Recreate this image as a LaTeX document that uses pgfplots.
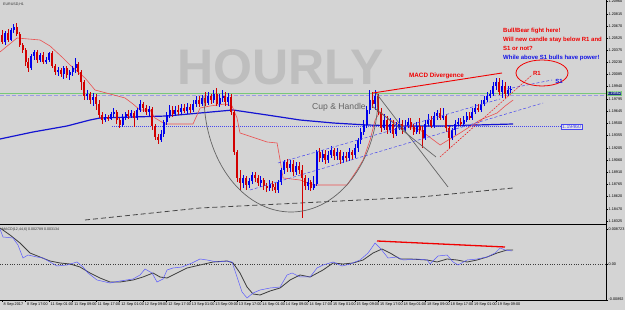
\documentclass[border=0pt]{standalone}
\usepackage{pgfplots}
\pgfplotsset{compat=1.18}
\usepackage{pgfplotstable}
\usepackage{fontspec}
\setmainfont{Liberation Sans}
\definecolor{bg}{RGB}{212,212,212}
\definecolor{hourly}{RGB}{190,190,190}
\definecolor{bull}{RGB}{0,0,235}
\definecolor{bear}{RGB}{210,0,0}
\definecolor{mablue}{RGB}{20,20,210}
\definecolor{trail}{RGB}{235,80,80}
\definecolor{gdash}{RGB}{70,70,70}
\definecolor{cupgray}{RGB}{100,100,100}
\definecolor{chan}{RGB}{70,70,240}
\definecolor{grline}{RGB}{120,200,120}
\definecolor{lav}{RGB}{155,155,230}
\definecolor{macdblue}{RGB}{90,90,255}
\definecolor{macdgray}{RGB}{60,60,60}
\definecolor{annred}{RGB}{240,0,0}
\definecolor{annblue}{RGB}{20,20,230}
\definecolor{pricebox}{RGB}{30,50,140}

\pgfplotstableread{
i o c h l
0 1.20560 1.20476 1.20620 1.20452
1 1.20476 1.20584 1.20608 1.20440
2 1.20584 1.20500 1.20632 1.20476
3 1.20500 1.20620 1.20644 1.20488
4 1.20620 1.20656 1.20692 1.20584
5 1.20656 1.20572 1.20704 1.20548
6 1.20572 1.20440 1.20596 1.20416
7 1.20440 1.20380 1.20464 1.20344
8 1.20380 1.20236 1.20404 1.20188
9 1.20236 1.20164 1.20284 1.20116
10 1.20164 1.20308 1.20332 1.20140
11 1.20308 1.20356 1.20380 1.20260
12 1.20356 1.20260 1.20380 1.20224
13 1.20260 1.20320 1.20344 1.20236
14 1.20320 1.20236 1.20356 1.20212
15 1.20236 1.20260 1.20296 1.20212
16 1.20260 1.20344 1.20356 1.20236
17 1.20344 1.20188 1.20368 1.20164
18 1.20188 1.20116 1.20212 1.20080
19 1.20116 1.20140 1.20176 1.20068
20 1.20140 1.20092 1.20164 1.20056
21 1.20092 1.20164 1.20188 1.20032
22 1.20164 1.20080 1.20188 1.20044
23 1.20080 1.20116 1.20140 1.20020
24 1.20116 1.20164 1.20188 1.20068
25 1.20164 1.20212 1.20284 1.20104
26 1.20212 1.20116 1.20236 1.20080
27 1.20116 1.19996 1.20140 1.19900
28 1.19996 1.19828 1.20020 1.19780
29 1.19828 1.19852 1.19900 1.19780
30 1.19852 1.19780 1.19876 1.19732
31 1.19780 1.19816 1.19864 1.19708
32 1.19816 1.19732 1.19852 1.19660
33 1.19732 1.19600 1.19780 1.19564
34 1.19600 1.19540 1.19636 1.19492
35 1.19540 1.19576 1.19612 1.19516
36 1.19576 1.19552 1.19600 1.19528
37 1.19552 1.19612 1.19636 1.19540
38 1.19612 1.19636 1.19684 1.19576
39 1.19636 1.19540 1.19660 1.19492
40 1.19540 1.19480 1.19564 1.19444
41 1.19480 1.19576 1.19612 1.19456
42 1.19576 1.19612 1.19636 1.19540
43 1.19612 1.19588 1.19660 1.19552
44 1.19588 1.19624 1.19660 1.19564
45 1.19624 1.19564 1.19648 1.19456
46 1.19564 1.19660 1.19684 1.19540
47 1.19660 1.19732 1.19780 1.19636
48 1.19732 1.19684 1.19756 1.19636
49 1.19684 1.19636 1.19720 1.19600
50 1.19636 1.19672 1.19708 1.19588
51 1.19672 1.19468 1.19696 1.19420
52 1.19468 1.19336 1.19492 1.19300
53 1.19336 1.19300 1.19372 1.19252
54 1.19300 1.19372 1.19420 1.19276
55 1.19372 1.19516 1.19540 1.19336
56 1.19516 1.19600 1.19636 1.19480
57 1.19600 1.19660 1.19720 1.19564
58 1.19660 1.19612 1.19708 1.19576
59 1.19612 1.19660 1.19708 1.19588
60 1.19660 1.19636 1.19720 1.19600
61 1.19636 1.19684 1.19732 1.19612
62 1.19684 1.19648 1.19732 1.19624
63 1.19648 1.19696 1.19744 1.19612
64 1.19696 1.19660 1.19732 1.19624
65 1.19660 1.19732 1.19780 1.19636
66 1.19732 1.19780 1.19828 1.19696
67 1.19780 1.19732 1.19828 1.19696
68 1.19732 1.19804 1.19840 1.19708
69 1.19804 1.19744 1.19876 1.19708
70 1.19744 1.19828 1.19876 1.19720
71 1.19828 1.19780 1.19852 1.19732
72 1.19780 1.19852 1.19900 1.19744
73 1.19852 1.19732 1.19924 1.19708
74 1.19732 1.19804 1.19852 1.19696
75 1.19804 1.19828 1.19900 1.19756
76 1.19828 1.19756 1.19876 1.19708
77 1.19756 1.19816 1.19864 1.19708
78 1.19816 1.19636 1.19852 1.19600
79 1.19636 1.19156 1.19660 1.19120
80 1.19156 1.18844 1.19180 1.18796
81 1.18844 1.18784 1.18940 1.18700
82 1.18784 1.18844 1.18880 1.18724
83 1.18844 1.18760 1.18868 1.18700
84 1.18760 1.18808 1.18844 1.18724
85 1.18808 1.18880 1.18916 1.18772
86 1.18880 1.18844 1.18916 1.18796
87 1.18844 1.18784 1.18880 1.18748
88 1.18784 1.18820 1.18868 1.18736
89 1.18820 1.18748 1.18844 1.18700
90 1.18748 1.18724 1.18784 1.18676
91 1.18724 1.18772 1.18820 1.18688
92 1.18772 1.18736 1.18808 1.18688
93 1.18736 1.18700 1.18784 1.18664
94 1.18700 1.18796 1.18820 1.18664
95 1.18796 1.18940 1.18964 1.18760
96 1.18940 1.19036 1.19060 1.18892
97 1.19036 1.18964 1.19072 1.18916
98 1.18964 1.19012 1.19060 1.18916
99 1.19012 1.18916 1.19060 1.18868
100 1.18916 1.18988 1.19036 1.18880
101 1.18988 1.18940 1.19036 1.18892
102 1.18940 1.18844 1.19000 1.18364
103 1.18844 1.18748 1.18880 1.18700
104 1.18748 1.18796 1.18844 1.18700
105 1.18796 1.18724 1.18820 1.18688
106 1.18724 1.18772 1.18868 1.18700
107 1.18772 1.19156 1.19180 1.18748
108 1.19156 1.19084 1.19204 1.19036
109 1.19084 1.19132 1.19180 1.19036
110 1.19132 1.19060 1.19180 1.19012
111 1.19060 1.19120 1.19168 1.19024
112 1.19120 1.19180 1.19228 1.19084
113 1.19180 1.19108 1.19204 1.19060
114 1.19108 1.19156 1.19204 1.19060
115 1.19156 1.19060 1.19180 1.19012
116 1.19060 1.19108 1.19156 1.19024
117 1.19108 1.19084 1.19156 1.19036
118 1.19084 1.19156 1.19204 1.19048
119 1.19156 1.19120 1.19180 1.19060
120 1.19120 1.19204 1.19252 1.19084
121 1.19204 1.19300 1.19324 1.19156
122 1.19300 1.19396 1.19444 1.19252
123 1.19396 1.19480 1.19540 1.19360
124 1.19480 1.19660 1.19708 1.19444
125 1.19660 1.19780 1.19900 1.19612
126 1.19780 1.19732 1.19876 1.19684
127 1.19732 1.19828 1.19900 1.19660
128 1.19828 1.19636 1.19852 1.19600
129 1.19636 1.19444 1.19684 1.19396
130 1.19444 1.19540 1.19612 1.19420
131 1.19540 1.19420 1.19588 1.19372
132 1.19420 1.19492 1.19564 1.19384
133 1.19492 1.19372 1.19540 1.19324
134 1.19372 1.19444 1.19516 1.19348
135 1.19444 1.19492 1.19564 1.19420
136 1.19492 1.19420 1.19540 1.19372
137 1.19420 1.19468 1.19540 1.19396
138 1.19468 1.19516 1.19564 1.19444
139 1.19516 1.19456 1.19564 1.19420
140 1.19456 1.19396 1.19492 1.19360
141 1.19396 1.19468 1.19516 1.19372
142 1.19468 1.19420 1.19564 1.19372
143 1.19420 1.19324 1.19468 1.19204
144 1.19324 1.19492 1.19540 1.19300
145 1.19492 1.19540 1.19612 1.19468
146 1.19540 1.19468 1.19588 1.19444
147 1.19468 1.19588 1.19636 1.19444
148 1.19588 1.19624 1.19660 1.19540
149 1.19624 1.19564 1.19684 1.19540
150 1.19564 1.19588 1.19684 1.19540
151 1.19588 1.19444 1.19612 1.19396
152 1.19444 1.19324 1.19468 1.19204
153 1.19324 1.19420 1.19444 1.19300
154 1.19420 1.19492 1.19540 1.19360
155 1.19492 1.19516 1.19564 1.19468
156 1.19516 1.19492 1.19564 1.19468
157 1.19492 1.19540 1.19588 1.19468
158 1.19540 1.19588 1.19636 1.19516
159 1.19588 1.19564 1.19636 1.19540
160 1.19564 1.19636 1.19684 1.19540
161 1.19636 1.19684 1.19732 1.19612
162 1.19684 1.19660 1.19732 1.19636
163 1.19660 1.19732 1.19780 1.19636
164 1.19732 1.19780 1.19828 1.19708
165 1.19780 1.19828 1.19876 1.19756
166 1.19828 1.19852 1.19900 1.19804
167 1.19852 1.19948 1.19996 1.19828
168 1.19948 1.19996 1.20044 1.19900
169 1.19996 1.19876 1.20044 1.19840
170 1.19876 1.19948 1.20020 1.19804
171 1.19948 1.19852 1.19996 1.19804
172 1.19852 1.19900 1.19948 1.19828
173 1.19900 1.19912 1.19948 1.19864
}\candles

\pgfplotstableread{
i p
-0.68 1.19312
10.54 1.19396
22.11 1.19468
29.93 1.19540
33.33 1.19564
44.56 1.19576
56.12 1.19588
67.35 1.19624
78.57 1.19660
90.14 1.19600
101.36 1.19540
112.59 1.19504
124.15 1.19480
135.37 1.19468
148.98 1.19468
173.81 1.19492
}\maline

\pgfplotstableread{
i p
28.23 1.18340
67.35 1.18484
101.36 1.18544
142.18 1.18616
173.81 1.18724
}\longma

\pgfplotstableread{
i p
-0.68 1.20356
5.10 1.20524
12.93 1.20500
16.33 1.20428
20.75 1.20284
23.13 1.20200
28.23 1.20044
31.63 1.19900
36.73 1.19852
41.84 1.19804
44.56 1.19732
46.94 1.19660
50.34 1.19660
52.04 1.19564
55.44 1.19492
64.97 1.19492
66.33 1.19600
67.35 1.19684
70.75 1.19708
75.85 1.19732
78.23 1.19708
79.93 1.19564
80.95 1.19384
90.14 1.19276
93.54 1.19264
94.56 1.19060
95.58 1.18844
101.36 1.18820
105.78 1.18760
117.35 1.18760
120.75 1.18940
122.79 1.19060
125.17 1.19300
126.87 1.19540
128.57 1.19636
131.97 1.19540
135.37 1.19480
142.18 1.19420
148.98 1.19240
155.78 1.19384
162.59 1.19540
168.37 1.19624
171.09 1.19708
173.81 1.19780
}\trailline

\pgfplotstableread{
i v
-0.68 0.00875
0.34 0.00675
3.74 0.0065
5.44 0.00475
7.14 0.0015
8.84 0.00225
11.9 0.00175
13.95 0.0015
16.33 0.0005
18.71 -0.0005
22.11 -0.00025
25.51 0.0005
27.55 -0.00075
29.25 -0.00225
32.31 -0.004
36.73 -0.00475
40.14 -0.00425
44.56 -0.00375
46.94 -0.00275
48.64 -0.00125
51.02 -0.00225
52.72 -0.0045
54.76 -0.00375
56.12 -0.0015
58.16 -0.001
61.22 -0.00075
64.63 0.00025
67.35 0.00125
69.73 0.001
73.13 0.0005
76.53 0.00075
78.23 0.0005
79.93 -0.00325
81.63 -0.007
83.33 -0.0085
85.37 -0.00725
87.76 -0.0065
91.16 -0.006
94.56 -0.00575
96.94 -0.00275
98.64 -0.00225
101.36 -0.00325
104.76 -0.00325
107.14 -0.001
109.18 -0.00025
112.59 0.0005
115.65 -0.0005
118.37 0
121.77 0.001
124.49 0.00275
126.87 0.00525
128.57 0.004
131.29 0.0015
134.35 0.00175
136.39 0.001
141.16 0.00125
144.56 0.001
145.58 0
148.3 0.002
151.36 0.00225
153.4 0.0005
155.1 -0.00025
158.16 0.001
161.56 0.00125
164.97 0.00175
167.69 0.00275
169.39 0.004
171.09 0.0035
173.47 0.00325
}\macdmain

\pgfplotstableread{
i v
-0.68 0.009
2.72 0.00725
6.12 0.00525
9.52 0.00275
12.93 0.00175
16.33 0.00075
19.73 0.00025
23.13 0
26.53 -0.00075
29.93 -0.00225
33.33 -0.0035
36.73 -0.0045
40.14 -0.0045
44.56 -0.004
47.96 -0.00325
51.36 -0.00225
53.74 -0.00325
56.12 -0.0035
59.52 -0.00225
62.93 -0.001
67.35 -0.00025
71.77 0.0005
76.53 0.00075
78.57 0.00025
80.95 -0.00225
83.33 -0.00575
85.37 -0.0075
87.76 -0.00775
91.16 -0.00675
94.56 -0.006
97.96 -0.004
101.36 -0.00275
104.76 -0.00325
109.18 -0.0015
112.59 0.00025
115.99 0
119.39 0.00025
122.79 0.001
126.19 0.00275
129.25 0.00375
131.97 0.00275
135.37 0.00125
138.78 0.00125
144.56 0.001
147.96 0.0005
151.36 0.00125
154.76 0.001
158.16 0.0005
161.56 0.001
164.97 0.00175
168.37 0.00275
171.77 0.0035
173.81 0.0035
}\macdsig

\newcommand\tinyf{\fontsize{3.8}{4.2}\selectfont}

\begin{document}
\begin{tikzpicture}
\fill[bg] (0,0) rectangle (625pt,310pt);
% background annotations (pixel coordinates: x right, y down)
\begin{scope}[x=1pt,y=-1pt,shift={(0pt,310pt)}]
  \node[anchor=base west, inner sep=0, text=hourly, font=\fontsize{50}{50}\selectfont\bfseries] at (177,85) {HOURLY};
  \draw[grline, line width=0.9pt] (0,93.2) -- (606,93.2);
  \draw[lav, line width=1.4pt, dash pattern=on 4pt off 2pt] (0,95.3) -- (606,95.3);
  \draw[chan, line width=0.5pt, dash pattern=on 1pt off 1pt] (112,126.7) -- (562,126.7);
  \draw[macdgray, line width=0.4pt, dotted] (0,264) -- (606,264);
\end{scope}

% main price panel
\begin{axis}[
  at={(0pt,86pt)}, anchor=south west, scale only axis,
  width=606pt, height=224pt,
  xmin=-0.68, xmax=205.4, ymin=1.18292, ymax=1.2098,
  axis line style={draw=none}, xtick=\empty,
  ytick pos=right, tick align=outside, major tick length=2pt,
  tick style={black, line width=0.35pt},
  scaled y ticks=false,
  ytick={1.20960,1.20815,1.20670,1.20525,1.20375,1.20230,1.20085,1.19940,1.19795,1.19645,1.19500,1.19355,1.19205,1.19060,1.18910,1.18765,1.18620,1.18470,1.18325},
  yticklabels={1.20960,1.20815,1.20670,1.20525,1.20375,1.20230,1.20085,1.19940,1.19795,1.19645,1.19500,1.19355,1.19205,1.19060,1.18910,1.18765,1.18620,1.18470,1.18325},
  yticklabel style={font=\tinyf, inner sep=0.4pt, xshift=0pt, text=black},
]
\addplot[gdash, line width=0.8pt, dash pattern=on 5pt off 3pt] table[x=i,y=p] {\longma};
\addplot[mablue, line width=1.2pt] table[x=i,y=p] {\maline};
\addplot[trail, line width=0.6pt] table[x=i,y=p] {\trailline};
% wicks
\addplot[draw=none, mark=none, error bars/.cd, y dir=plus, y explicit, error mark=none,
  error bar style={draw=bull, line width=0.55pt}]
  table[x=i, y expr={\thisrow{c}>\thisrow{o} ? \thisrow{l} : nan}, y error plus expr={\thisrow{h}-\thisrow{l}}] {\candles};
\addplot[draw=none, mark=none, error bars/.cd, y dir=plus, y explicit, error mark=none,
  error bar style={draw=bear, line width=0.55pt}]
  table[x=i, y expr={\thisrow{c}<\thisrow{o} ? \thisrow{l} : nan}, y error plus expr={\thisrow{h}-\thisrow{l}}] {\candles};
% bodies
\addplot[draw=none, mark=none, error bars/.cd, y dir=plus, y explicit, error mark=none,
  error bar style={draw=bull, line width=2pt}]
  table[x=i, y expr={\thisrow{c}>\thisrow{o} ? \thisrow{o} : nan}, y error plus expr={\thisrow{c}-\thisrow{o}}] {\candles};
\addplot[draw=none, mark=none, error bars/.cd, y dir=plus, y explicit, error mark=none,
  error bar style={draw=bear, line width=2pt}]
  table[x=i, y expr={\thisrow{c}<\thisrow{o} ? \thisrow{c} : nan}, y error plus expr={\thisrow{o}-\thisrow{c}}] {\candles};
\end{axis}

% MACD panel
\begin{axis}[
  at={(0pt,10pt)}, anchor=south west, scale only axis,
  width=606pt, height=74pt,
  xmin=-0.68, xmax=205.4, ymin=-0.009, ymax=0.0095,
  axis line style={draw=none},
  ytick pos=right, xtick pos=bottom, tick align=outside, major tick length=2pt,
  tick style={black, line width=0.35pt},
  scaled y ticks=false, scaled x ticks=false,
  ytick={-0.00892,0,0.008723},
  yticklabels={-0.00892,0.00,0.008723},
  yticklabel style={font=\tinyf, inner sep=0.4pt, xshift=0pt},
  xtick={0,8,...,168},
  xticklabels={8 Sep 2017,8 Sep 17:00,11 Sep 01:00,11 Sep 09:00,11 Sep 17:00,12 Sep 01:00,12 Sep 09:00,12 Sep 17:00,13 Sep 01:00,13 Sep 09:00,13 Sep 17:00,14 Sep 01:00,14 Sep 09:00,14 Sep 17:00,15 Sep 01:00,15 Sep 09:00,15 Sep 17:00,18 Sep 01:00,18 Sep 09:00,18 Sep 17:00,19 Sep 01:00,19 Sep 09:00},
  xticklabel style={font=\tinyf, anchor=north west, inner sep=0.5pt, xshift=1pt},
]
\addplot[macdgray, line width=0.8pt] table[x=i,y=v] {\macdsig};
\addplot[macdblue, line width=0.5pt] table[x=i,y=v] {\macdmain};
\end{axis}

% foreground annotations
\begin{scope}[x=1pt,y=-1pt,shift={(0pt,310pt)}]
  % frame
  \draw[black, line width=0.8pt] (606,0) -- (606,300);
  \draw[black, line width=1.6pt] (0,224.6) -- (606,224.6);
  \draw[black, line width=0.6pt] (0,300) -- (606,300);
  % cup and handle
  \draw[cupgray, line width=0.7pt] (204,96) arc[start angle=180, end angle=0, x radius=87, y radius=116];
  \draw[cupgray, line width=0.7pt] (376,93) -- (448,187);
  \draw[cupgray, line width=0.7pt] (372,106) -- (436,157);
  \node[anchor=base west, inner sep=0, text=cupgray, font=\fontsize{8.6}{9}\selectfont] at (312,110) {Cup \& Handle};
  % channel lines
  \draw[chan, line width=0.5pt, dash pattern=on 3pt off 2pt] (250,190) -- (543,103);
  \draw[chan, line width=0.5pt, dash pattern=on 3pt off 2pt] (278,163) -- (500,99);
  \draw[chan, line width=0.5pt, dash pattern=on 3pt off 2pt] (507,89) -- (552,80);
  \draw[annred, line width=0.4pt, dash pattern=on 2pt off 1pt] (440,157) -- (532,75);
  % MACD divergence
  \draw[annred, line width=0.9pt] (373,93) -- (502,73);
  \node[anchor=base west, inner sep=0, text=annred, font=\fontsize{6.3}{7}\selectfont\bfseries] at (409,78) {MACD Divergence};
  \draw[annred, line width=1.3pt] (377,241) -- (505,247);
  % R1 / S1
  \draw[annred, line width=0.8pt] (542,73) ellipse[x radius=26, y radius=13];
  \node[text=annred, inner sep=0, font=\fontsize{6}{7}\selectfont\bfseries] at (537,73) {R1};
  \node[text=annblue, inner sep=0, font=\fontsize{6}{7}\selectfont\bfseries] at (559,81) {S1};
  % text block
  \begin{scope}[every node/.style={anchor=base west, inner sep=0, font=\fontsize{6}{7}\selectfont\bfseries}]
    \node[text=annred] at (503,33) {Bull/Bear fight here!};
    \node[text=annred] at (503,42) {Will new candle stay below R1 and};
    \node[text=annred] at (503,51) {S1 or not?};
    \node[text=annblue] at (503,60) {While above S1 bulls have power!};
  \end{scope}
  % price labels
  \node[anchor=west, draw=chan, fill=bg!60!white, text=chan, inner xsep=1pt, inner ysep=0.9pt, font=\fontsize{5.2}{5.6}\selectfont] at (561,126.7) {1.19460};
  \node[anchor=west, fill=pricebox, draw=grline, text=white, inner sep=0.6pt, font=\tinyf] at (606.5,93.2) {1.19862};
  % captions
  \node[anchor=north west, inner sep=0, text=black!80, font=\fontsize{3.6}{4}\selectfont] at (3,2.5) {EURUSD,H1};
  \node[anchor=north west, inner sep=0, text=black!80, font=\fontsize{3.6}{4}\selectfont] at (2,227.5) {MACD(12,44,6) 0.002789 0.003134};
\end{scope}
\pgfresetboundingbox
\path[use as bounding box] (0,0) rectangle (625pt,310pt);
\end{tikzpicture}
\end{document}
